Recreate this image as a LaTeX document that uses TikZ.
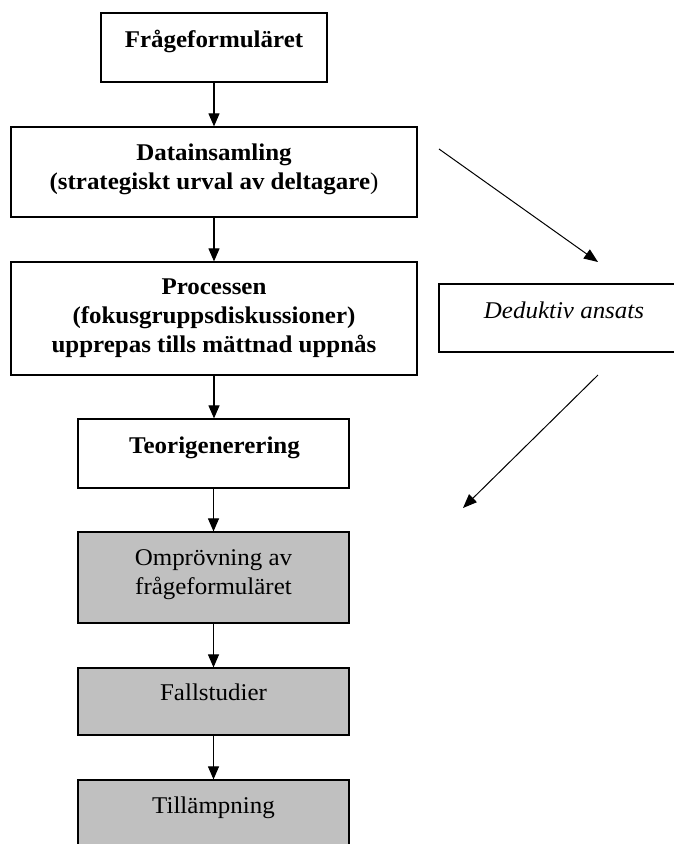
\documentclass[tikz,border=0pt]{standalone}
\usepackage{fontspec}
\setmainfont{Liberation Serif}[FakeStretch=1.04]
\usetikzlibrary{arrows.meta}
\definecolor{boxgray}{RGB}{192,192,192}
\tikzset{
  box/.style={draw=black, line width=1.2pt, inner sep=0pt, rectangle},
  graybox/.style={box, fill=boxgray},
  txt/.style={anchor=base, inner sep=0pt, font=\fontsize{24}{29}\selectfont},
  arr/.style={line width=1.1pt, -{Triangle[length=13pt,width=11pt]}},
  darr/.style={line width=1pt, -{Triangle[length=14pt,width=11pt]}}
}
\newcommand{\lns}[1]{\begin{tabular}[t]{@{}c@{}}#1\end{tabular}}
\begin{document}
\begin{tikzpicture}[x=1pt,y=-1pt]
\useasboundingbox (0,0) rectangle (674,844);
% boxes
\node[box, minimum width=226pt, minimum height=69pt] (b1) at (214,47.5) {};
\node[box, minimum width=406pt, minimum height=90pt] (b2) at (214,172) {};
\node[box, minimum width=406pt, minimum height=113pt] (b3) at (214,318.5) {};
\node[box, minimum width=250pt, minimum height=68pt] (bd) at (564,318) {};
\node[box, minimum width=271pt, minimum height=69pt] (b4) at (213.5,453.5) {};
\node[graybox, minimum width=271pt, minimum height=91pt] (b5) at (213.5,577.5) {};
\node[graybox, minimum width=271pt, minimum height=67pt] (b6) at (213.5,701.5) {};
\node[graybox, minimum width=271pt, minimum height=68pt] (b7) at (213.5,814) {};
% texts
\node[txt] (t1) at (214,47.5) {\textbf{Frågeformuläret}};
\node[txt] (t2) at (214,160) {\lns{\textbf{Datainsamling}\\\textbf{(strategiskt urval av deltagare})}};
\node[txt] (t3) at (214,294) {\lns{\textbf{Processen}\\\textbf{(fokusgruppsdiskussioner)}\\\textbf{upprepas tills mättnad uppnås}}};
\node[txt] (td) at (564,318) {\textit{Deduktiv ansats}};
\node[txt] (t4) at (214.5,453) {\textbf{Teorigenerering}};
\node[txt] (t5) at (213.5,565) {\lns{Omprövning av\\frågeformuläret}};
\node[txt] (t6) at (213.5,700) {Fallstudier};
\node[txt] (t7) at (213.5,813) {Tillämpning};
% vertical connectors
\draw[arr] (b1.south) -- (b2.north);
\draw[arr] (b2.south) -- (b3.north);
\draw[arr] (b3.south) -- (b3.south |- b4.north);
\draw[arr] (b4.south) -- (b5.north);
\draw[arr] (b5.south) -- (b6.north);
\draw[arr] (b6.south) -- (b7.north);
% diagonal connectors
\coordinate (d1s) at (439,149);
\coordinate (d1e) at (598,262);
\coordinate (d2s) at (598,375);
\coordinate (d2e) at (463,508);
\draw[darr] (d1s) -- (d1e);
\draw[darr] (d2s) -- (d2e);
\end{tikzpicture}
\end{document}
